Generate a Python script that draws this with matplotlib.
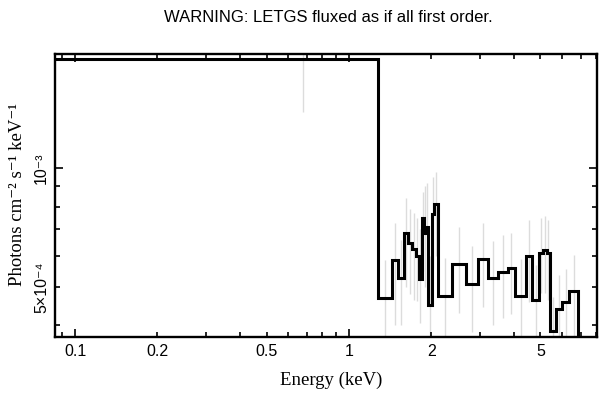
import numpy as np
import matplotlib
matplotlib.use("Agg")
import matplotlib.pyplot as plt
from matplotlib.ticker import LogLocator, FuncFormatter

# ---- data ----
bin_edges = [0.083, 1.279, 1.439, 1.506, 1.587, 1.646, 1.694, 1.752, 1.801, 1.842,
             1.886, 1.910, 1.942, 2.017, 2.048, 2.107, 2.383, 2.667, 2.964, 3.217,
             3.489, 3.796, 4.036, 4.426, 4.644, 4.950, 5.118, 5.267, 5.429, 5.681,
             5.975, 6.368, 6.834, 7.6]
flux = [1.89e-3, 4.69e-4, 5.86e-4, 5.28e-4, 6.87e-4, 6.46e-4, 6.25e-4, 6.01e-4,
        5.24e-4, 7.48e-4, 6.86e-4, 7.10e-4, 4.51e-4, 7.66e-4, 8.10e-4, 4.75e-4,
        5.73e-4, 5.10e-4, 5.89e-4, 5.28e-4, 5.47e-4, 5.58e-4, 4.75e-4, 6.01e-4,
        4.63e-4, 6.11e-4, 6.21e-4, 6.11e-4, 3.86e-4, 4.40e-4, 4.59e-4, 4.89e-4,
        2.5e-4]
err_low = [1.39e-3, 3.5e-4, 4.01e-4, 4.0e-4, 5.0e-4, 4.8e-4, 4.65e-4, 4.6e-4,
           4.06e-4, 5.5e-4, 5.0e-4, 5.2e-4, 3.5e-4, 5.6e-4, 6.0e-4, 3.5e-4,
           4.31e-4, 3.84e-4, 4.46e-4, 4.01e-4, 4.18e-4, 4.27e-4, 3.6e-4, 4.59e-4,
           3.6e-4, 4.83e-4, 4.83e-4, 4.64e-4, 3.0e-4, 3.4e-4, 3.6e-4, 3.7e-4,
           2.0e-4]
err_high = [2.4e-3, 5.86e-4, 7.27e-4, 6.6e-4, 8.4e-4, 7.9e-4, 7.7e-4, 7.5e-4,
            7.0e-4, 8.7e-4, 9.0e-4, 9.2e-4, 6.0e-4, 9.5e-4, 9.8e-4, 5.93e-4,
            7.11e-4, 6.36e-4, 7.28e-4, 6.55e-4, 6.78e-4, 6.87e-4, 5.89e-4, 7.40e-4,
            5.69e-4, 7.48e-4, 7.57e-4, 7.40e-4, 4.73e-4, 5.37e-4, 5.56e-4, 6.03e-4,
            3.0e-4]

title = "WARNING: LETGS fluxed as if all first order."
xlabel = "Energy (keV)"
ylabel = "Photons cm\u207b\u00b2 s\u207b\u00b9 keV\u207b\u00b9"

W, H = 608, 399
fig = plt.figure(figsize=(W / 100, H / 100), dpi=100)
ax = fig.add_axes([54.7 / W, 1 - 337.3 / H, (596.7 - 54.7) / W, (337.3 - 54.3) / H])

edges = np.array(bin_edges)
centers = 0.5 * (edges[:-1] + edges[1:])
ax.vlines(centers, err_low, err_high, color="#dcdcdc", lw=1.0, zorder=1)
ax.stairs(flux, edges, baseline=None, color="black", lw=2.2, zorder=2)

ax.set_xscale("log")
ax.set_yscale("log")
ax.set_xlim(0.0843, 8.02)
ax.set_ylim(3.73e-4, 1.945e-3)

sans = ["Liberation Sans", "DejaVu Sans"]
serif = ["Liberation Serif", "DejaVu Serif"]

ax.xaxis.set_major_locator(LogLocator(base=10, numticks=10))
ax.xaxis.set_minor_locator(LogLocator(base=10, subs=np.arange(2, 10), numticks=20))

def xfmt(v, pos):
    m = v / 10 ** np.floor(np.log10(v) + 1e-9)
    m = round(m, 3)
    if m in (1.0, 2.0, 5.0):
        return ("%g" % v)
    return ""

ax.xaxis.set_major_formatter(FuncFormatter(xfmt))
ax.xaxis.set_minor_formatter(FuncFormatter(xfmt))

ax.yaxis.set_major_locator(LogLocator(base=10, numticks=10))
ax.yaxis.set_minor_locator(LogLocator(base=10, subs=np.arange(2, 10), numticks=20))

def yfmt(v, pos):
    e = int(np.floor(np.log10(v) + 1e-9))
    m = round(v / 10 ** e, 3)
    sup = str(e).replace("-", "\u207b").replace("3", "\u00b3").replace("4", "\u2074")
    if m == 1.0:
        return "10" + sup
    if m == 5.0:
        return "5\u00d710" + sup
    return ""

ax.yaxis.set_major_formatter(FuncFormatter(yfmt))
ax.yaxis.set_minor_formatter(FuncFormatter(yfmt))

ax.tick_params(which="both", direction="in", top=True, right=True, width=1.2,
               colors="black", labelsize=11.5)
ax.tick_params(which="major", length=6)
ax.tick_params(which="minor", length=3.5)
ax.tick_params(axis="x", which="both", pad=5)
ax.tick_params(axis="y", which="both", pad=4)
for lab in ax.get_xticklabels(which="both"):
    lab.set_family(sans)
for lab in ax.get_yticklabels(which="both"):
    lab.set_family(sans)
    lab.set_rotation(90)
    lab.set_va("center")

for s in ax.spines.values():
    s.set_linewidth(1.7)

fig.text(328 / W, 1 - 18 / H, title, ha="center", va="center",
         fontsize=12, family=sans)
fig.text(331 / W, 1 - 380 / H, xlabel, ha="center", va="center",
         fontsize=13.5, family=serif)
fig.text(18 / W, 1 - 194 / H, ylabel, ha="center", va="center",
         rotation=90, fontsize=13.5, family=serif)

fig.savefig("out.png", dpi=100)
